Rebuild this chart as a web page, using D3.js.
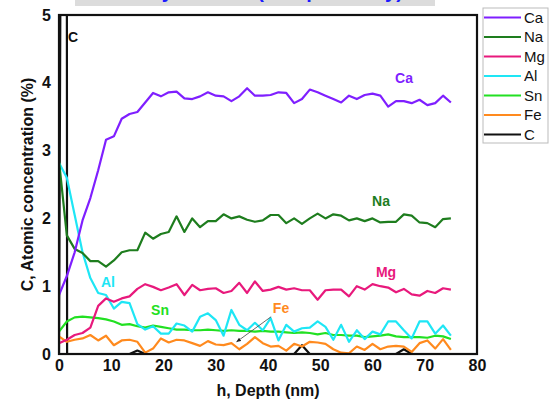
<!DOCTYPE html>
<html>
<head>
<meta charset="utf-8">
<script src="https://cdn.jsdelivr.net/npm/d3@7"></script>
<style>
  body { margin: 0; background: #fff; }
  text { font-family: "Liberation Sans", Arial, sans-serif; }
</style>
</head>
<body>
<div id="chart"></div>
<script>
// depth grid (nm)
const depth = [0, 1.5, 3, 4.5, 6, 7.5, 9, 10.5, 12, 13.5, 15, 16.5, 18, 19.5, 21, 22.5, 24, 25.5, 27, 28.5,
  30, 31.5, 33, 34.5, 36, 37.5, 39, 40.5, 42, 43.5, 45, 46.5, 48, 49.5, 51, 52.5, 54, 55.5, 57, 58.5,
  60, 61.5, 63, 64.5, 66, 67.5, 69, 70.5, 72, 73.5, 75];

const ca = [0.87, 1.15, 1.5, 1.97, 2.3, 2.71, 3.16, 3.21, 3.47, 3.54, 3.57, 3.71, 3.85, 3.80, 3.86, 3.87, 3.77, 3.76, 3.80, 3.86,
  3.81, 3.80, 3.73, 3.80, 3.92, 3.81, 3.81, 3.82, 3.86, 3.85, 3.70, 3.76, 3.90, 3.86, 3.81, 3.76, 3.71, 3.81, 3.76, 3.82,
  3.84, 3.81, 3.65, 3.73, 3.73, 3.70, 3.75, 3.67, 3.70, 3.81, 3.71];
const na = [2.85, 1.75, 1.55, 1.49, 1.37, 1.37, 1.29, 1.38, 1.50, 1.53, 1.53, 1.79, 1.70, 1.77, 1.80, 2.03, 1.80, 2.00, 1.87, 1.96,
  1.96, 2.06, 2.00, 2.03, 1.98, 1.95, 1.97, 2.05, 2.05, 1.93, 2.00, 1.92, 2.00, 2.07, 2.00, 2.06, 2.04, 1.97, 2.00, 1.96,
  2.00, 1.94, 1.95, 1.95, 2.06, 2.04, 1.94, 1.93, 1.87, 1.99, 2.00];
const mg = [0.16, 0.21, 0.28, 0.31, 0.39, 0.71, 0.82, 0.77, 0.82, 0.85, 0.96, 1.03, 0.99, 0.94, 0.98, 1.03, 0.87, 1.02, 0.94, 0.96,
  0.97, 0.90, 0.93, 1.05, 0.90, 1.07, 0.93, 0.95, 0.99, 0.95, 0.97, 0.94, 0.94, 0.80, 0.94, 0.95, 0.95, 0.85, 1.00, 0.95,
  1.03, 1.00, 0.98, 0.91, 0.96, 0.88, 0.86, 0.93, 0.90, 0.97, 0.95];
const al = [2.82, 2.6, 2.05, 1.5, 1.12, 0.90, 0.87, 0.67, 0.77, 0.75, 0.44, 0.36, 0.41, 0.30, 0.30, 0.45, 0.42, 0.33, 0.55, 0.60,
  0.50, 0.27, 0.65, 0.43, 0.35, 0.46, 0.35, 0.53, 0.20, 0.43, 0.33, 0.38, 0.39, 0.48, 0.40, 0.21, 0.43, 0.18, 0.35, 0.22,
  0.33, 0.29, 0.48, 0.48, 0.35, 0.23, 0.48, 0.48, 0.30, 0.42, 0.27];
const sn = [0.33, 0.48, 0.54, 0.55, 0.54, 0.53, 0.51, 0.48, 0.43, 0.44, 0.41, 0.39, 0.42, 0.40, 0.38, 0.36, 0.36, 0.35, 0.35, 0.36,
  0.35, 0.34, 0.35, 0.34, 0.34, 0.33, 0.34, 0.33, 0.33, 0.32, 0.31, 0.32, 0.31, 0.29, 0.31, 0.28, 0.28, 0.27, 0.27, 0.25,
  0.26, 0.27, 0.29, 0.26, 0.25, 0.25, 0.25, 0.24, 0.27, 0.26, 0.22];
const fe = [0.26, 0.18, 0.21, 0.23, 0.28, 0.20, 0.27, 0.13, 0.20, 0.21, 0.18, 0.02, 0.08, 0.23, 0.17, 0.21, 0.20, 0.16, 0.12, 0.19,
  0.14, 0.13, 0.16, 0.07, 0.15, 0.25, 0.16, 0.11, 0.12, 0.05, 0.15, 0.11, 0.18, 0.17, 0.15, 0.07, 0.02, 0.01, 0.11, 0.06,
  0.15, 0.07, 0.11, 0.12, 0.11, 0.03, 0.16, 0.20, 0.08, 0.22, 0.06];

// carbon: sharp surface spike, then ~0 with a few small bumps
const cDepth = [0, 0.3, 1.5, 1.55, 13.5, 15, 16.5, 45, 46.5, 48, 64.5, 66, 67.5, 75];
const cVal = [0, 6, 6, 0, 0, 0.05, 0, 0, 0.13, 0, 0, 0.07, 0, 0];

const xTicks = [0, 10, 20, 30, 40, 50, 60, 70, 80];
const yTicks = [0, 1, 2, 3, 4, 5];

const series = [
  { name: "Ca", x: depth, y: ca, color: "#7f1fff", label: [404, 78] },
  { name: "Na", x: depth, y: na, color: "#1e7d1e", label: [381, 201] },
  { name: "Mg", x: depth, y: mg, color: "#e8197c", label: [386, 272] },
  { name: "Al", x: depth, y: al, color: "#1ee6f5", label: [108, 282] },
  { name: "Sn", x: depth, y: sn, color: "#22e022", label: [160, 310] },
  { name: "Fe", x: depth, y: fe, color: "#ff8a1e", label: [281, 308] },
  { name: "C", x: cDepth, y: cVal, color: "#111", label: [73, 37] }
];

const totalWidth = 558, totalHeight = 401;
const margin = { top: 15, left: 59, right: 81, bottom: 47 };
const w = totalWidth - margin.left - margin.right;
const h = totalHeight - margin.top - margin.bottom;

const svg = d3.select("#chart").append("svg")
  .attr("width", totalWidth)
  .attr("height", totalHeight);

// title strip, mostly cut off at the top edge as in the original
svg.append("clipPath").attr("id", "titleClip")
  .append("rect").attr("x", 75).attr("y", 0).attr("width", 360).attr("height", 6);
const title = svg.append("g").attr("clip-path", "url(#titleClip)");
title.append("rect").attr("x", 75).attr("y", 0).attr("width", 360).attr("height", 6).attr("fill", "#dcdcdc");
title.append("text")
  .attr("x", 255).attr("y", -2)
  .attr("text-anchor", "middle")
  .attr("font-size", 20).attr("font-weight", "bold")
  .attr("fill", "#1a1aff")
  .text("Glassy Surface (Sample Study)");

const g = svg.append("g").attr("transform", `translate(${margin.left},${margin.top})`);

const xScale = d3.scaleLinear().domain([0, 80]).range([0, w]);
const yScale = d3.scaleLinear().domain([0, 5]).range([h, 0]);

// axes (labels only, frame drawn below)
const xAxis = g.append("g")
  .attr("transform", `translate(0,${h})`)
  .call(d3.axisBottom(xScale).tickValues(xTicks).tickFormat(d3.format("d")).tickSize(0).tickPadding(6));
const yAxis = g.append("g")
  .call(d3.axisLeft(yScale).tickValues(yTicks).tickFormat(d3.format("d")).tickSize(0).tickPadding(8));
[xAxis, yAxis].forEach(a => {
  a.select(".domain").remove();
  a.selectAll("text")
    .attr("font-family", "Liberation Sans, Arial, sans-serif")
    .attr("font-size", 16).attr("font-weight", "bold").attr("fill", "#111");
});

g.append("clipPath").attr("id", "plotClip")
  .append("rect").attr("width", w).attr("height", h);

const line = d3.line()
  .x(d => xScale(d[0]))
  .y(d => yScale(d[1]));

const plot = g.append("g").attr("clip-path", "url(#plotClip)");
series.slice().reverse().forEach(s => {
  plot.append("path")
    .attr("fill", "none")
    .attr("stroke", s.color)
    .attr("stroke-width", 2.2)
    .attr("stroke-linejoin", "round")
    .attr("d", line(s.x.map((v, i) => [v, s.y[i]])));
});

// frame
g.append("rect")
  .attr("width", w).attr("height", h)
  .attr("fill", "none").attr("stroke", "#111").attr("stroke-width", 2.2);

// in-plot labels
series.forEach(s => {
  svg.append("text")
    .attr("x", s.label[0]).attr("y", s.label[1])
    .attr("dy", "0.35em")
    .attr("text-anchor", "middle")
    .attr("font-size", 14).attr("font-weight", "bold")
    .attr("fill", s.color)
    .text(s.name);
});

// arrow from Fe label to Fe curve
svg.append("defs").append("marker")
  .attr("id", "arrow").attr("viewBox", "0 0 10 10")
  .attr("refX", 9).attr("refY", 5)
  .attr("markerWidth", 6).attr("markerHeight", 6)
  .attr("orient", "auto")
  .append("path").attr("d", "M0,1 L10,5 L0,9 Z").attr("fill", "#222");
g.append("line")
  .attr("x1", xScale(40.6)).attr("y1", yScale(0.55))
  .attr("x2", xScale(34)).attr("y2", yScale(0.18))
  .attr("stroke", "#444").attr("stroke-width", 0.8)
  .attr("marker-end", "url(#arrow)");

// axis titles
svg.append("text")
  .attr("transform", `translate(27,${margin.top + h / 2}) rotate(-90)`)
  .attr("text-anchor", "middle").attr("dy", "0.35em")
  .attr("font-size", 16).attr("font-weight", "bold").attr("fill", "#111")
  .text("C, Atomic concentration (%)");
svg.append("text")
  .attr("x", margin.left + xScale(40)).attr("y", 390)
  .attr("text-anchor", "middle").attr("dy", "0.35em")
  .attr("font-size", 16).attr("font-weight", "bold").attr("fill", "#111")
  .text("h, Depth (nm)");

// legend
const legend = svg.append("g").attr("transform", "translate(483,8)");
legend.append("rect")
  .attr("width", 65).attr("height", 135)
  .attr("fill", "#fff").attr("stroke", "#bbb").attr("stroke-width", 1);
series.forEach((s, i) => {
  const y = 9.5 + i * 19.5;
  legend.append("line")
    .attr("x1", 1).attr("x2", 38).attr("y1", y).attr("y2", y)
    .attr("stroke", s.color).attr("stroke-width", 2.2);
  legend.append("text")
    .attr("x", 41).attr("y", y).attr("dy", "0.36em")
    .attr("font-size", 15).attr("fill", "#111")
    .text(s.name);
});
</script>
</body>
</html>
